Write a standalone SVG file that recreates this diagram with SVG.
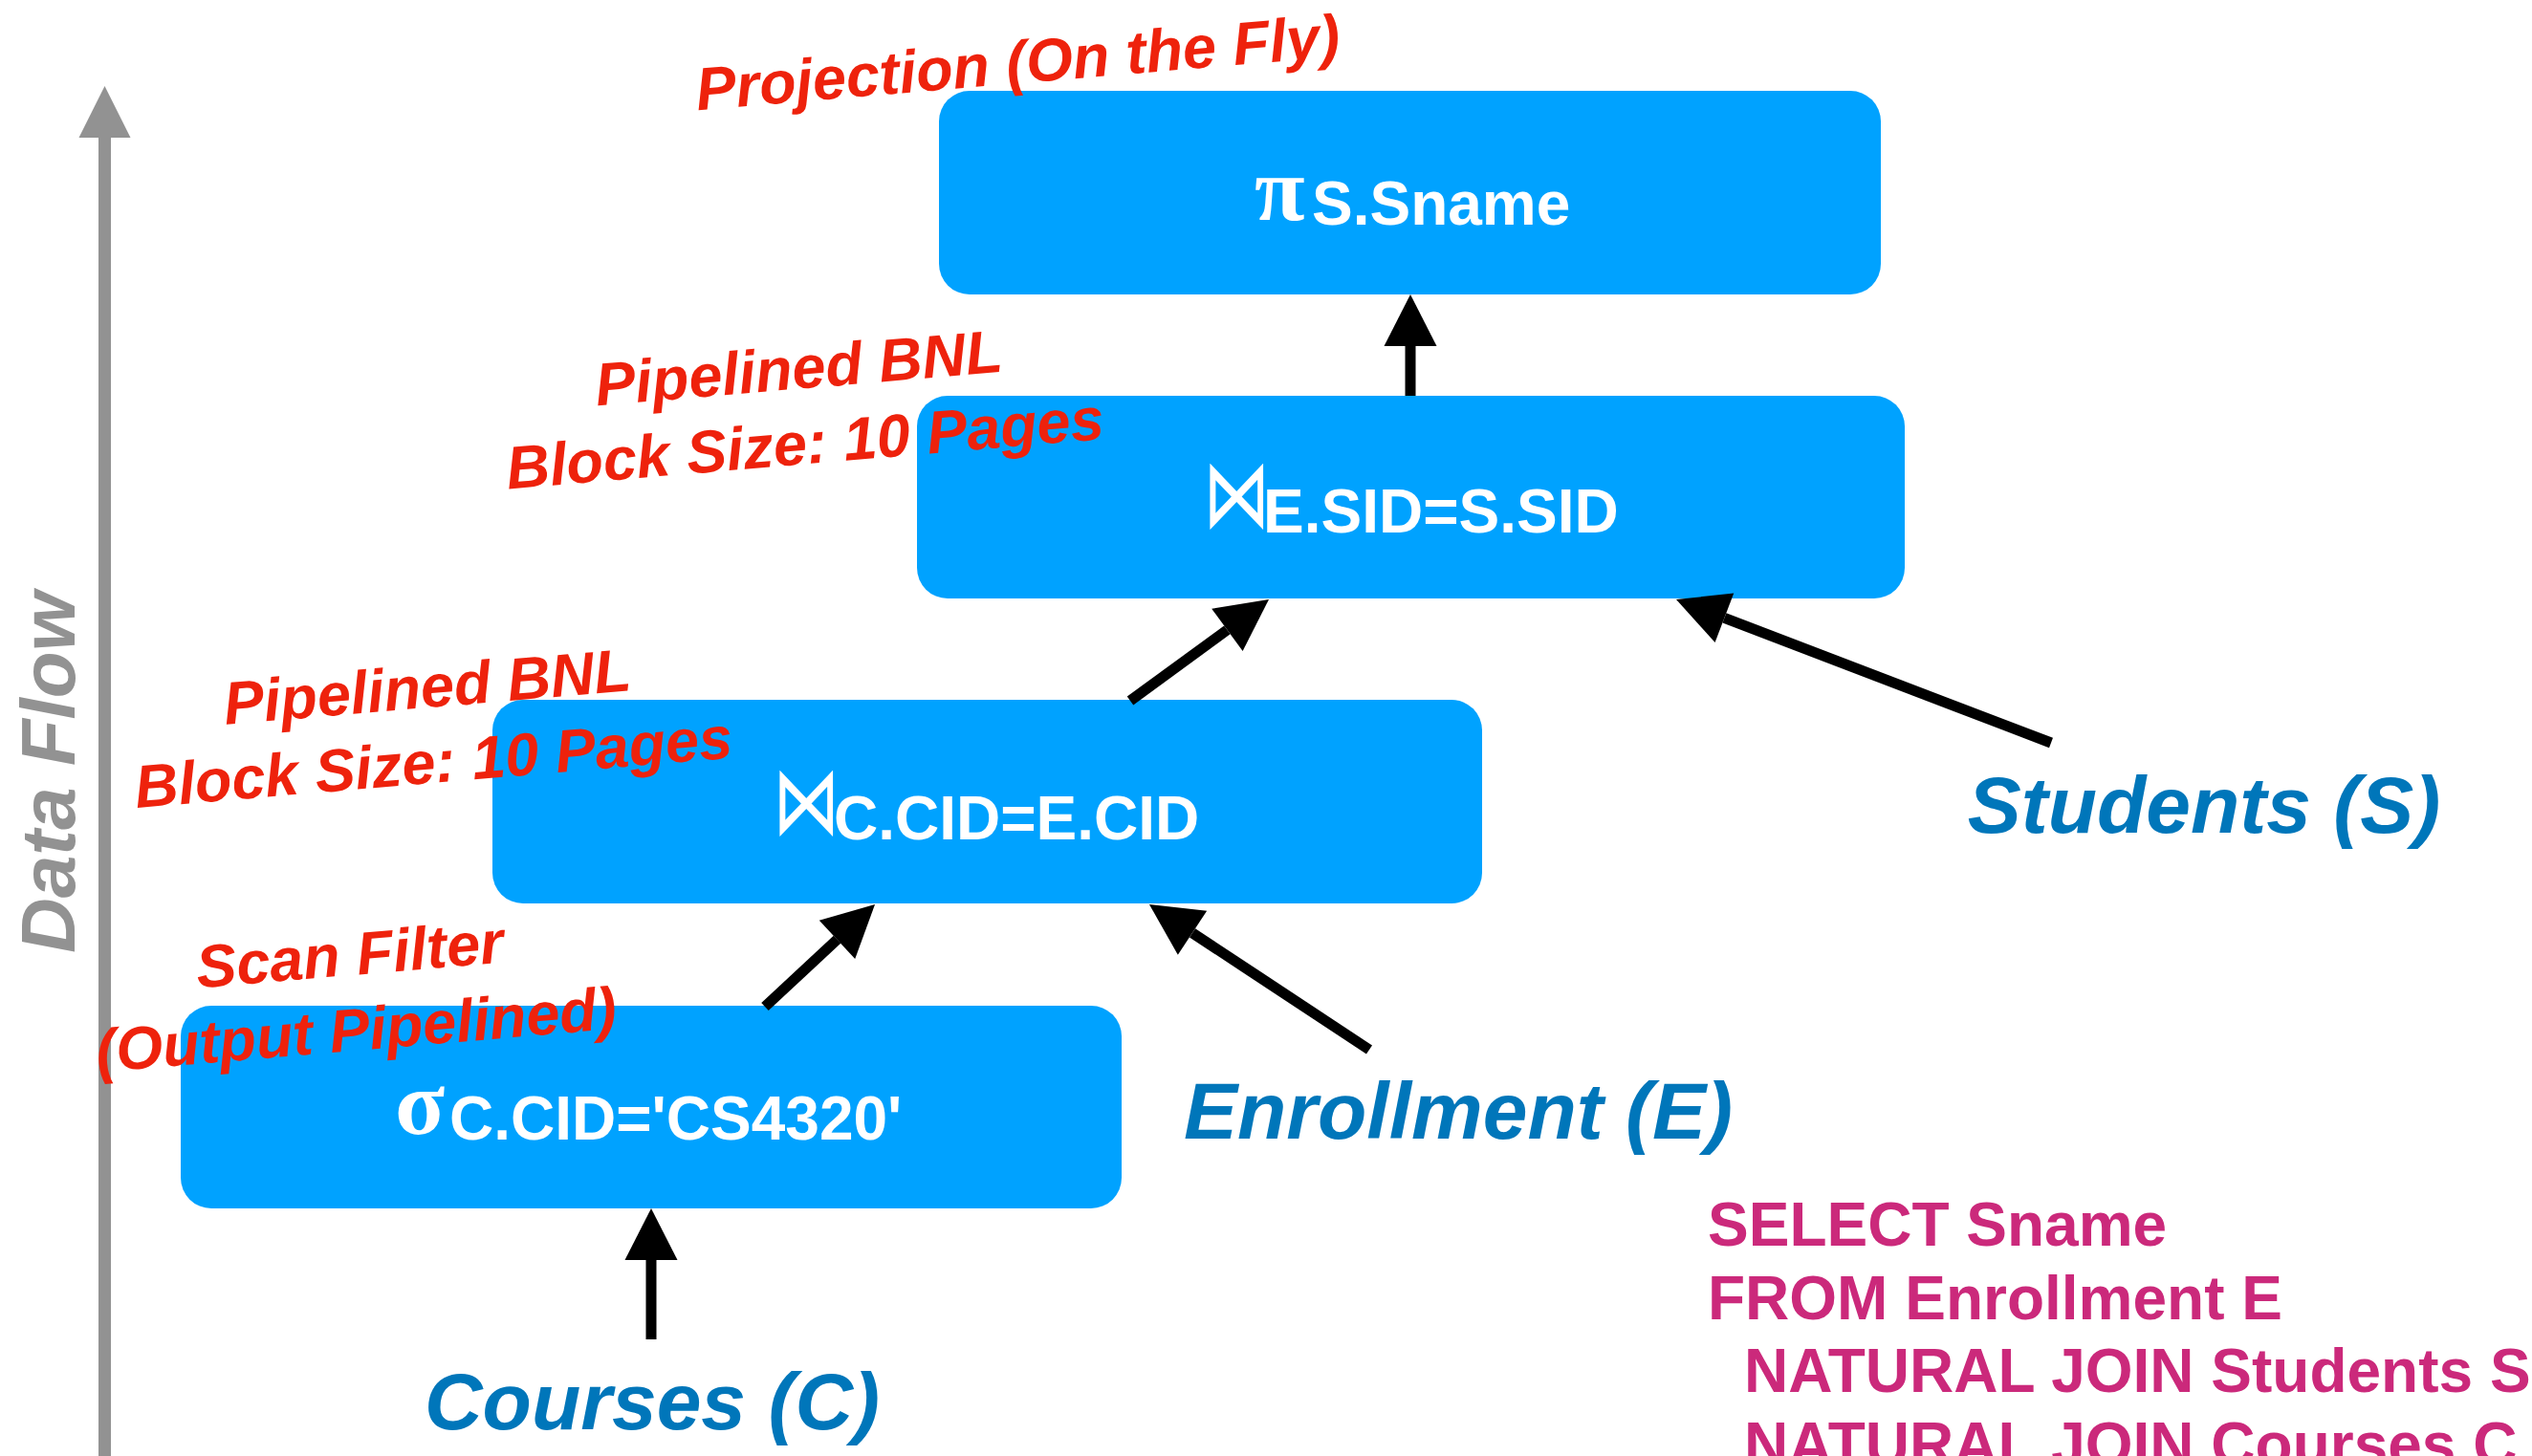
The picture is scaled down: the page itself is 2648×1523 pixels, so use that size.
<svg xmlns="http://www.w3.org/2000/svg" width="2648" height="1523" viewBox="0 0 2648 1523">
  <style>
    .op { fill: #00A2FF; }
    .sym { font-family: "Liberation Serif", "DejaVu Serif", serif; font-weight: bold; font-size: 96px; fill: #ffffff; }
    .join { font-family: "DejaVu Sans", sans-serif; font-size: 84px; fill: #ffffff; }
    .sub { font-family: "Liberation Sans", Arial, sans-serif; font-weight: bold; font-size: 64px; fill: #ffffff; }
    .note { font-family: "Liberation Sans", Arial, sans-serif; font-weight: bold; font-style: italic; font-size: 63px; fill: #EE220C; text-anchor: middle; }
    .rel { font-family: "Liberation Sans", Arial, sans-serif; font-weight: bold; font-style: italic; font-size: 84px; fill: #0076BA; text-anchor: middle; }
    .sql { font-family: "Liberation Sans", Arial, sans-serif; font-weight: bold; font-size: 64px; fill: #CB297B; }
    .flow { font-family: "Liberation Sans", Arial, sans-serif; font-weight: bold; font-style: italic; font-size: 80px; fill: #929292; text-anchor: middle; }
    .edge { stroke: #000000; stroke-width: 11; fill: none; marker-end: url(#head); }
  </style>
  <defs>
    <marker id="head" markerUnits="userSpaceOnUse" markerWidth="56" markerHeight="57" refX="0" refY="27.5" orient="auto" overflow="visible">
      <path d="M0,0 L54,27.5 L0,55 Z" fill="#000000"/>
    </marker>
    <marker id="grayhead" markerUnits="userSpaceOnUse" markerWidth="56" markerHeight="56" refX="0" refY="27" orient="auto" overflow="visible">
      <path d="M0,0 L54,27 L0,54 Z" fill="#929292"/>
    </marker>
  </defs>

  <rect width="2648" height="1523" fill="#ffffff"/>

  <!-- data flow axis -->
  <g id="data-flow">
    <line x1="109.5" y1="1523" x2="109.5" y2="144" stroke="#929292" stroke-width="13" marker-end="url(#grayhead)"/>
    <text class="flow" transform="translate(78,808) rotate(-90)">Data Flow</text>
  </g>

  <!-- operator nodes -->
  <g id="project">
    <rect class="op" x="982" y="95" width="985" height="213" rx="32"/>
    <text><tspan class="sym" x="1312" y="230">π</tspan><tspan class="sub" x="1372" y="235">S.Sname</tspan></text>
  </g>

  <g id="join-es">
    <rect class="op" x="959" y="414" width="1033" height="212" rx="32"/>
    <text class="join" transform="translate(1258,551) scale(0.84,1.2)">⋈</text>
    <text class="sub" x="1321" y="557">E.SID=S.SID</text>
  </g>

  <g id="join-ce">
    <rect class="op" x="515" y="732" width="1035" height="213" rx="32"/>
    <text class="join" transform="translate(808,872) scale(0.84,1.2)">⋈</text>
    <text class="sub" x="872" y="878">C.CID=E.CID</text>
  </g>

  <g id="select">
    <rect class="op" x="189" y="1052" width="984" height="212" rx="32"/>
    <text><tspan class="sym" x="413" y="1186">σ</tspan><tspan class="sub" x="470" y="1192">C.CID='CS4320'</tspan></text>
  </g>

  <!-- base relations -->
  <g id="courses"><text class="rel" x="682" y="1495">Courses (C)</text></g>
  <g id="enrollment"><text class="rel" x="1525" y="1191">Enrollment (E)</text></g>
  <g id="students"><text class="rel" x="2305" y="871">Students (S)</text></g>

  <!-- operator annotations -->
  <g id="note-project" transform="translate(1066,87) rotate(-4.8)">
    <text class="note" x="0" y="0">Projection (On the Fly)</text>
  </g>
  <g id="note-join-es" transform="translate(837,406.5) rotate(-4.8)">
    <text class="note" x="0" y="0">Pipelined BNL</text>
    <text class="note" x="0" y="79">Block Size: 10 Pages</text>
  </g>
  <g id="note-join-ce" transform="translate(448.5,740) rotate(-4.8)">
    <text class="note" x="0" y="0">Pipelined BNL</text>
    <text class="note" x="0" y="79">Block Size: 10 Pages</text>
  </g>
  <g id="note-select" transform="translate(367.5,1020) rotate(-4.8)">
    <text class="note" x="0" y="0">Scan Filter</text>
    <text class="note" x="0" y="79">(Output Pipelined)</text>
  </g>

  <!-- query text -->
  <g id="query">
    <text class="sql" x="1786" y="1303">SELECT Sname</text>
    <text class="sql" x="1786" y="1380">FROM Enrollment E</text>
    <text class="sql" x="1824" y="1456">NATURAL JOIN Students S</text>
    <text class="sql" x="1824" y="1533">NATURAL JOIN Courses C</text>
  </g>

  <!-- connectors: line ends where the arrowhead begins -->
  <g id="edges">
    <line class="edge" x1="1475" y1="414" x2="1475" y2="362"/>
    <line class="edge" x1="1182" y1="733" x2="1283.4" y2="658.9"/>
    <line class="edge" x1="2145" y1="777" x2="1803.4" y2="646.3"/>
    <line class="edge" x1="1432" y1="1098" x2="1247" y2="975.8"/>
    <line class="edge" x1="800" y1="1053" x2="875.5" y2="982.8"/>
    <line class="edge" x1="681" y1="1401" x2="681" y2="1318"/>
  </g>
</svg>
